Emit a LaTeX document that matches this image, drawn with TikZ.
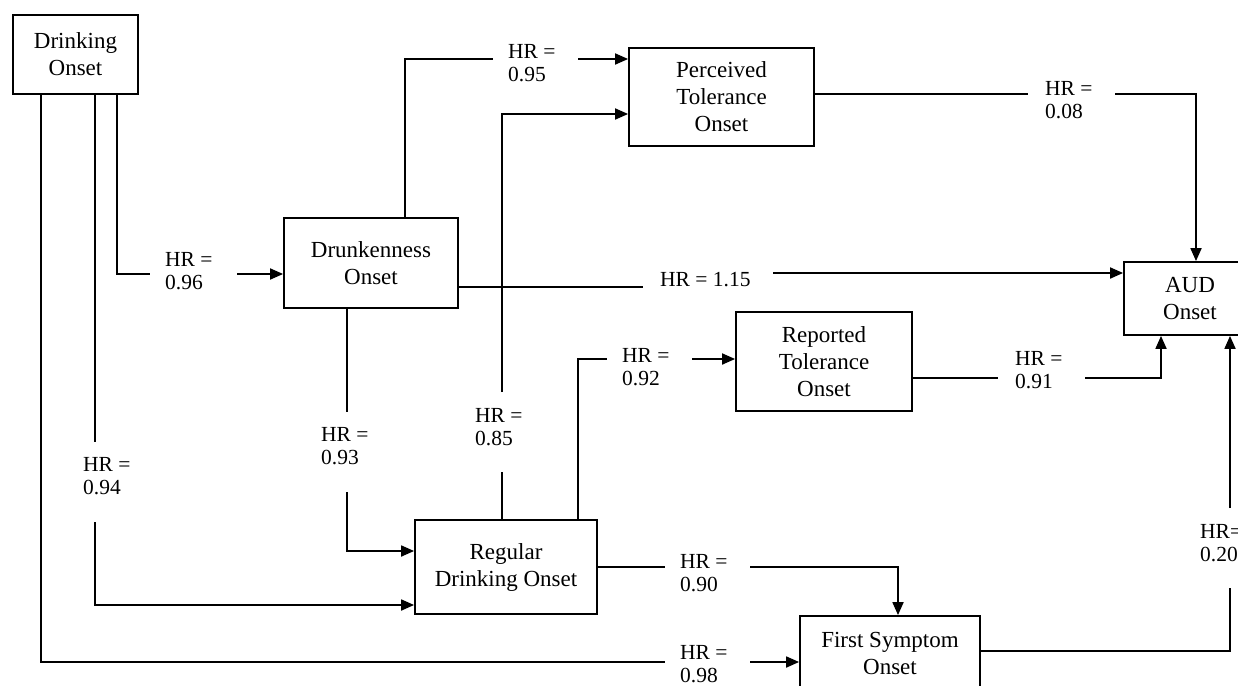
\documentclass[tikz,border=0pt]{standalone}
\usepackage{fontspec}
\setmainfont{Liberation Serif}
\usetikzlibrary{arrows.meta}
\begin{document}
\begin{tikzpicture}[x=1pt,y=-1pt,
  box/.style={draw,line width=1.8pt,inner sep=0pt,align=center,font=\fontsize{23}{27}\selectfont},
  hr/.style={anchor=west,inner sep=0pt,align=left,font=\fontsize{21.5}{23}\selectfont},
  conn/.style={line width=1.8pt},
  arr/.style={conn,-{Triangle[length=13pt,width=11pt]}}]
\useasboundingbox (0,0) rectangle (1238,685);
\fill[white] (0,0) rectangle (1238,685);
% boxes
\node[box,minimum width=125pt,minimum height=79pt] (drink) at (75.5,54.5) {Drinking\\Onset};
\node[box,minimum width=174pt,minimum height=90pt] (drunk) at (371,263) {Drunkenness\\Onset};
\node[box,minimum width=185pt,minimum height=98pt] (perc) at (721.5,97) {Perceived\\Tolerance\\Onset};
\node[box,minimum width=132pt,minimum height=73pt] (aud) at (1190,298.5) {AUD\\Onset};
\node[box,minimum width=176pt,minimum height=99pt] (rep) at (824,361.5) {Reported\\Tolerance\\Onset};
\node[box,minimum width=182pt,minimum height=94pt] (reg) at (506,567) {Regular\\Drinking Onset};
\node[box,minimum width=180pt,minimum height=74pt] (first) at (890,653) {First Symptom\\Onset};
% labels
\node[hr] (l096) at (165,271) {HR =\\0.96};
\node[hr] (l095) at (508,63) {HR =\\0.95};
\node[hr] (l008) at (1045,100) {HR =\\0.08};
\node[hr] (l115) at (660,280) {HR = 1.15};
\node[hr] (l092) at (622,367) {HR =\\0.92};
\node[hr] (l091) at (1015,370) {HR =\\0.91};
\node[hr] (l085) at (475,427) {HR =\\0.85};
\node[hr] (l093) at (321,446) {HR =\\0.93};
\node[hr] (l094) at (83,476) {HR =\\0.94};
\node[hr] (l090) at (680,573) {HR =\\0.90};
\node[hr] (l098) at (680,664) {HR =\\0.98};
\node[hr] (l020) at (1200,543) {HR=\\0.20};
% connectors
\draw[conn] (drink.south -| 117,0) |- (150,274);
\draw[arr] (237,274) -- (drunk.west |- 0,274);
\draw[conn] (drink.south -| 95,0) -- (95,442);
\draw[arr] (95,522) |- (reg.west |- 0,605);
\draw[conn] (drink.south -| 41,0) |- (665,662);
\draw[arr] (750,662) -- (first.west |- 0,662);
\draw[conn] (drunk.north -| 405,0) |- (493,59);
\draw[arr] (578,59) -- (perc.west |- 0,59);
\draw[conn] (drunk.east |- 0,287) -- (643,287);
\draw[arr] (773,273) -- (aud.west |- 0,273);
\draw[conn] (drunk.south -| 347,0) -- (347,412);
\draw[arr] (347,492) |- (reg.west |- 0,551);
\draw[conn] (reg.north -| 502,0) -- (502,472);
\draw[arr] (502,392) |- (perc.west |- 0,114);
\draw[conn] (reg.north -| 578,0) |- (607,359);
\draw[arr] (692,359) -- (rep.west |- 0,359);
\draw[conn] (reg.east |- 0,567) -- (665,567);
\draw[arr] (750,567) -| (first.north -| 898,0);
\draw[conn] (perc.east |- 0,94) -- (1028,94);
\draw[arr] (1115,94) -| (aud.north -| 1196,0);
\draw[conn] (rep.east |- 0,378) -- (998,378);
\draw[arr] (1085,378) -| (aud.south -| 1161,0);
\draw[conn] (first.east |- 0,651) -| (1230,588);
\draw[arr] (1230,508) -- (aud.south -| 1230,0);
\end{tikzpicture}
\end{document}
